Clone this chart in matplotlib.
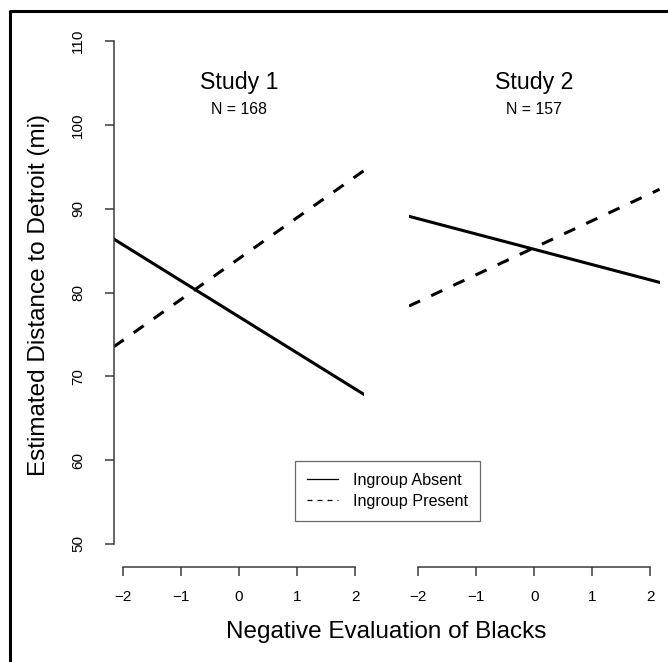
import matplotlib
matplotlib.use("Agg")
import matplotlib.pyplot as plt
from matplotlib.lines import Line2D

plt.rcParams['font.family'] = ['Liberation Sans', 'DejaVu Sans']

# fitted lines, values at x = -2 and x = 2
x_ends = [-2, 2]
study1_absent = [85.7, 68.5]
study1_present = [74.3, 93.8]
study2_absent = [88.8, 81.5]
study2_present = [78.9, 91.8]

titles = ["Study 1", "Study 2"]
ns = ["N = 168", "N = 157"]
xticks = [-2, -1, 0, 1, 2]
yticks = [50, 60, 70, 80, 90, 100, 110]

W, H = 668, 662
fig = plt.figure(figsize=(W / 100, H / 100), dpi=100)

ax1 = fig.add_axes([113.7 / W, 98 / H, 250.6 / W, 543 / H])
ax2 = fig.add_axes([409 / W, 98 / H, 250.6 / W, 543 / H])

axcol = '#3a3a3a'
panels = [(ax1, study1_absent, study1_present), (ax2, study2_absent, study2_present)]
for i, (ax, absent, present) in enumerate(panels):
    ax.set_xlim(-2.16, 2.16)
    ax.set_ylim(47.6, 112.4)
    ax.axline((x_ends[0], absent[0]), (x_ends[1], absent[1]), color='black', lw=2.2)
    ax.axline((x_ends[0], present[0]), (x_ends[1], present[1]), color='black', lw=2.2,
              linestyle=(0, (4, 4)))
    for s in ['top', 'right', 'left']:
        ax.spines[s].set_visible(False)
    ax.spines['bottom'].set_bounds(-2, 2)
    ax.spines['bottom'].set_color(axcol)
    ax.spines['bottom'].set_linewidth(1.1)
    ax.spines['bottom'].set_position(('outward', 2))
    ax.set_xticks(xticks)
    ax.set_xticklabels([str(t).replace('-', '\u2212') for t in xticks])
    ax.tick_params(axis='x', length=6.5, width=1.1, color=axcol, labelsize=11, pad=10)
    ax.text(0, 104.25, titles[i], ha='center', va='baseline', fontsize=16.7)
    ax.text(0, 101.3, ns[i], ha='center', va='baseline', fontsize=11.4)
    if i == 0:
        ax.spines['left'].set_visible(True)
        ax.spines['left'].set_bounds(50, 110)
        ax.spines['left'].set_color(axcol)
        ax.spines['left'].set_linewidth(1.1)
        ax.set_yticks(yticks)
        ax.set_yticklabels([str(t) for t in yticks], rotation=90, va='center')
        ax.tick_params(axis='y', length=6.5, width=1.1, color=axcol, labelsize=11, pad=14)
    else:
        ax.set_yticks([])

fig.text(39 / W, 1 - 295.5 / H, "Estimated Distance to Detroit (mi)", rotation=90,
         ha='center', va='center', fontsize=17.5)
fig.text(386 / W, 1 - 632 / H, "Negative Evaluation of Blacks",
         ha='center', va='center', fontsize=17.5)

handles = [Line2D([], [], color='black', lw=0.9),
           Line2D([], [], color='black', lw=0.9, linestyle=(0, (4, 4)))]
leg = fig.legend(handles, ["Ingroup Absent", "Ingroup Present"],
                 loc='upper left', bbox_to_anchor=(295 / W, 1 - 461 / H),
                 fontsize=11.6, frameon=True, fancybox=False, handlelength=1.9,
                 handletextpad=0.95, borderpad=0.75, labelspacing=0.35, borderaxespad=0)
leg.get_frame().set_edgecolor('#444444')
leg.get_frame().set_linewidth(0.9)

# outer frame, only top and left edges fall inside the image
fig.add_artist(Line2D([10 / W, 10 / W, 1.0], [0.0, 1 - 11 / H, 1 - 11 / H],
                      transform=fig.transFigure, color='black', lw=2.2))

fig.savefig("out.png", dpi=100)
